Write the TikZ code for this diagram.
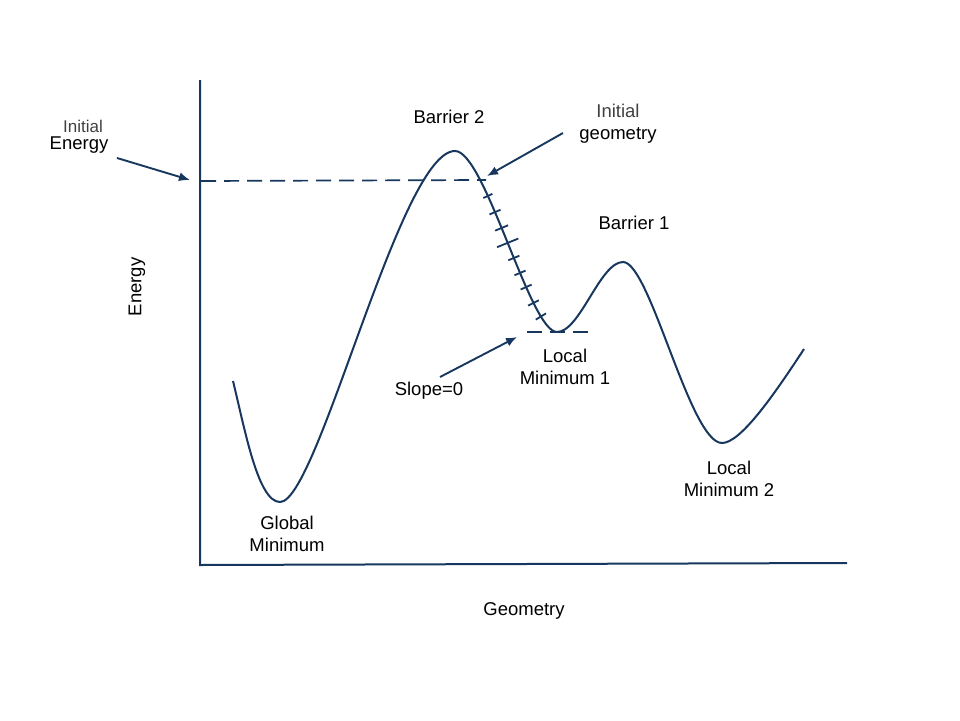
\documentclass[tikz,border=0pt]{standalone}
\usepackage{fontspec}
\setmainfont{Liberation Sans}
\usepackage{xcolor}
\usetikzlibrary{arrows.meta,positioning}
\definecolor{lineblue}{RGB}{23,55,94}

\begin{document}
\begin{tikzpicture}[
    x=1pt, y=-1pt,
    curve/.style={draw=lineblue, line width=2pt},
    axis/.style={draw=lineblue, line width=2pt},
    guide/.style={draw=lineblue, line width=1.7pt, dash pattern=on 15pt off 8pt},
    pointer/.style={draw=lineblue, line width=1.9pt, -{Latex[length=11pt,width=9pt]}},
    tick/.style={sloped, inner sep=0pt, outer sep=0pt},
    lbl/.style={font=\fontsize{18.5}{22}\selectfont, align=center, inner sep=0pt}
]
    \useasboundingbox (0,0) rectangle (960,720);

    % axes
    \coordinate (org) at (200,565);
    \coordinate (ytop) at (200,80);
    \coordinate (xend) at (847,563);
    \draw[axis] (ytop) -- (org) -- (xend);

    % energy surface
    \coordinate (cStart) at (233,381);
    \coordinate (gmin) at (280,502);
    \coordinate (b2) at (455,151);
    \coordinate (lmin1) at (557,332);
    \coordinate (b1) at (623,262);
    \coordinate (lmin2) at (722,443);
    \coordinate (cEnd) at (804,349);
    \draw[curve] (cStart) .. controls (245,430) and (258,502) .. (gmin)
        .. controls (318,502) and (400,151) .. (b2)
        .. controls (485,151) and (530,332) .. (lmin1)
        .. controls (580,332) and (600,262) .. (b1)
        .. controls (650,262) and (690,443) .. (lmin2)
        .. controls (740,443) and (772,398) .. (cEnd);

    % steps down the slope
    \path (b2) .. controls (485,151) and (530,332) .. (lmin1)
        \foreach \t/\l in {.325/10, .39/12, .45/14, .505/23, .561/12,
            .618/12, .675/12, .746/12, .82/12}
        {node[tick, pos=\t] {\textcolor{lineblue}{\rule{1.8pt}{\l pt}}}};

    % levels
    \coordinate (eStart) at (201,181);
    \coordinate (eEnd) at (486,180);
    \draw[guide] (eStart) -- (eEnd);
    \coordinate (zStart) at (527,332);
    \coordinate (zEnd) at (594,332);
    \draw[guide] (zStart) -- (zEnd);

    % labels
    \node[lbl, rotate=90] (yLabel) at (137,287) {Energy};
    \node[lbl] (xLabel) at (524,611) {Geometry};
    \node[lbl, text=black!75, font=\fontsize{17}{20}\selectfont] (initTop) at (83,126) {Initial};
    \node[lbl] (initE) at (79,145) {Energy};
    \node[lbl] (bar2) at (449,117) {Barrier 2};
    \node[lbl] (initG) at (618,124) {\textcolor{black!75}{Initial}\\geometry};
    \node[lbl] (bar1) at (634,223) {Barrier 1};
    \node[lbl] (loc1) at (565,367) {Local\\Minimum 1};
    \node[lbl] (slope) at (429,391) {Slope=0};
    \node[lbl] (glob) at (287,534) {Global\\Minimum};
    \node[lbl] (loc2) at (729,479) {Local\\Minimum 2};

    % pointers
    \coordinate (eFrom) at (117,158);
    \coordinate (eTo) at (190,180);
    \draw[pointer] (eFrom) -- (eTo);
    \coordinate (gFrom) at (563,133);
    \coordinate (gTo) at (487,176);
    \draw[pointer] (gFrom) -- (gTo);
    \coordinate (sFrom) at (440,377);
    \coordinate (sTo) at (517,337);
    \draw[pointer] (sFrom) -- (sTo);
\end{tikzpicture}
\end{document}
